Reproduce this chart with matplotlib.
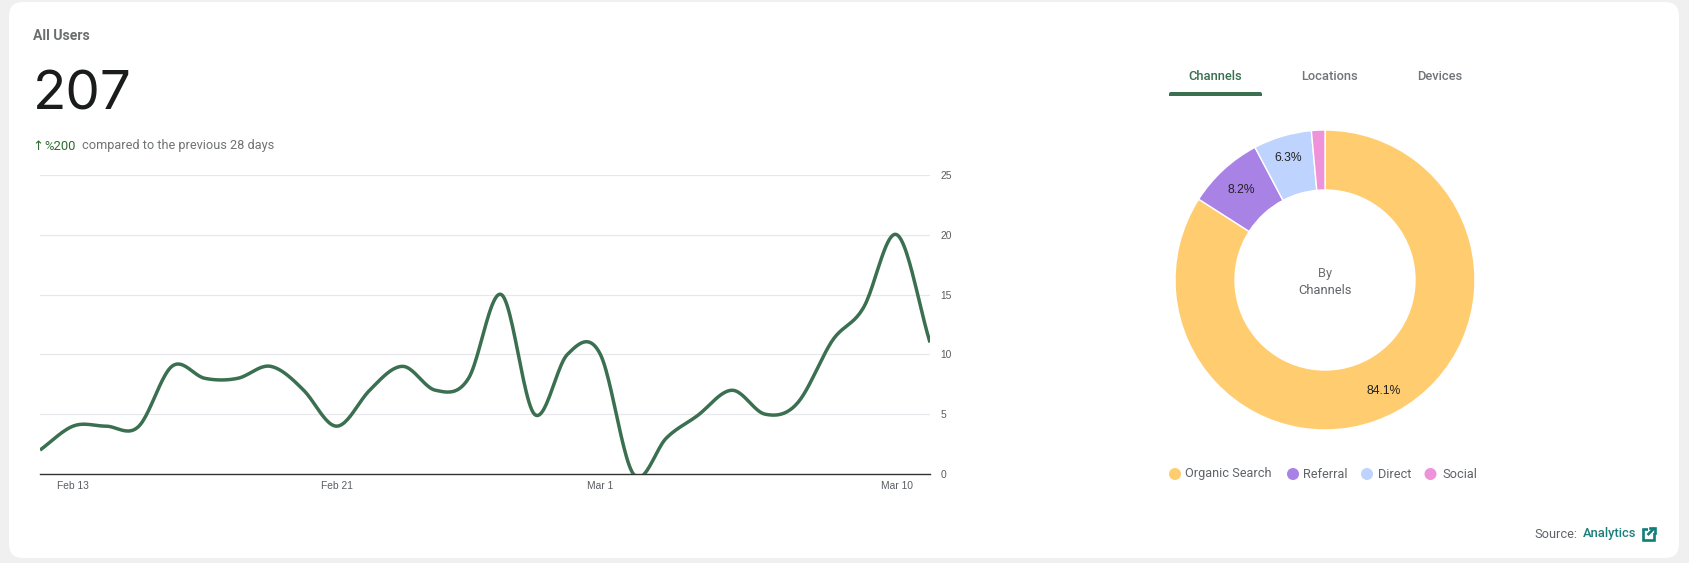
import numpy as np
import matplotlib
matplotlib.use("Agg")
import matplotlib.pyplot as plt
from matplotlib.patches import FancyBboxPatch, Circle, Rectangle

W, H = 1689, 563

# ---- data ----
users = [2, 4, 4, 4, 9, 8, 8, 9, 7, 4, 7, 9, 7, 8, 15, 5, 10, 10, 0, 3, 5, 7, 5, 6, 11, 14, 20, 11]
date_ticks = [1, 9, 17, 26]
date_labels = ["Feb 13", "Feb 21", "Mar 1", "Mar 10"]
y_ticks = [0, 5, 10, 15, 20, 25]
channels = ["Organic Search", "Referral", "Direct", "Social"]
channel_users = [174, 17, 13, 3]
channel_colors = ["#FFCD70", "#A982E6", "#BFD3FF", "#EE92DA"]
tabs = ["Channels", "Locations", "Devices"]

FONT = "Roboto"
GREEN = "#3A6F50"


def smooth(values, per=24):
    """Draw the daily values as a smooth line through every point."""
    v = np.asarray(values, float)
    t = np.gradient(v) * 1.0
    t[1:-1] = (v[2:] - v[:-2]) / 2 * 1.1
    xs, ys = [], []
    for i in range(len(v) - 1):
        s = np.linspace(0, 1, per, endpoint=False)
        h00 = 2*s**3 - 3*s**2 + 1
        h10 = s**3 - 2*s**2 + s
        h01 = -2*s**3 + 3*s**2
        h11 = s**3 - s**2
        xs.append(i + s)
        ys.append(h00*v[i] + h10*t[i] + h01*v[i+1] + h11*t[i+1])
    xs.append([len(v) - 1])
    ys.append([v[-1]])
    return np.concatenate(xs), np.concatenate(ys)


def px_axes(x0, y0, x1, y1, **kw):
    return fig.add_axes([x0 / W, 1 - y1 / H, (x1 - x0) / W, (y1 - y0) / H], **kw)


fig = plt.figure(figsize=(W / 100, H / 100), dpi=100, facecolor="#F0F0F0")

# ---- card + free text in pixel coordinates ----
bg = fig.add_axes([0, 0, 1, 1], zorder=0)
bg.set_xlim(0, W)
bg.set_ylim(H, 0)
bg.axis("off")
bg.add_patch(FancyBboxPatch((9 + 14, 2 + 14), 1670 - 28, 556 - 28,
                            boxstyle="round,pad=14,rounding_size=14",
                            fc="white", ec="none"))

bg.text(33, 35.5, "All Users", family=FONT, weight="bold", fontsize=10.1,
        color="#6B6F6C", va="center")
bg.text(33, 109, "207", family="Inter", fontsize=39.5, color="#191C1A", va="baseline")
bg.text(32.5, 146, "↑", family="DejaVu Sans", fontsize=9.5, color="#2F6B2F", va="center")
bg.text(44.5, 146, "%200", family=FONT, fontsize=9.4, color="#2F6B2F", va="center")
bg.text(82.5, 146, "compared to the previous 28 days", family=FONT, fontsize=9.15,
        color="#6F7471", va="center")

# tabs
for name, cx, col in zip(tabs, [1215, 1329.5, 1439.5], [GREEN, "#70757A", "#70757A"]):
    bg.text(cx, 76, name, family=FONT, fontsize=9.3, weight="medium", color=col,
            ha="center", va="center")
bg.add_patch(FancyBboxPatch((1171, 94), 89, 5, boxstyle="round,pad=2,rounding_size=2",
                            fc=GREEN, ec="none"))
bg.add_patch(Rectangle((1166, 96), 100, 8, fc="white", ec="none"))

# legend
for name, col, dx, tx in zip(channels, channel_colors,
                             [1175, 1293, 1367, 1430.5],
                             [1185, 1303, 1378, 1442]):
    bg.add_patch(Circle((dx, 474), 6, fc=col, ec="none"))
    bg.text(tx, 474, name, family=FONT, fontsize=9.2, color="#5F6368", va="center")

# source
bg.text(1534.5, 534, "Source:", family=FONT, fontsize=9.2, color="#5F6368", va="center")
bg.text(1582.5, 534, "Analytics", family=FONT, fontsize=9.3, weight="medium",
        color="#1A7F7B", va="center")
bg.add_patch(Rectangle((1643, 528.5), 11.5, 11.5, fc="none", ec="#0F7F7B", lw=1.9))
bg.add_patch(Rectangle((1648.5, 526), 7.5, 7, fc="white", ec="none"))
bg.plot([1647.5, 1654.5], [535, 528], color="#0F7F7B", lw=1.9, solid_capstyle="butt")
bg.plot([1650, 1655.5, 1655.5], [527.7, 527.7, 533], color="#0F7F7B", lw=1.9,
        solid_joinstyle="miter")

# ---- line chart ----
ax = px_axes(40, 175, 930, 474, zorder=2)
ax.patch.set_alpha(0)
ax.set_xlim(0, len(users) - 1)
ax.set_ylim(0, 25)
for s in ["top", "left", "right"]:
    ax.spines[s].set_visible(False)
ax.spines["bottom"].set_color("#333333")
ax.spines["bottom"].set_linewidth(1.0)
ax.set_yticks(y_ticks)
ax.yaxis.tick_right()
ax.set_xticks(date_ticks)
ax.set_xticklabels(date_labels)
ax.tick_params(axis="both", length=0, labelsize=7.4, labelcolor="#5A5E62")
ax.tick_params(axis="x", pad=5.2)
ax.tick_params(axis="y", pad=7.5)
for lab in ax.get_xticklabels() + ax.get_yticklabels():
    lab.set_family("Liberation Sans")
ax.grid(axis="y", color="#E8E8EC", lw=0.9)
ax.set_axisbelow(True)
cx, cy = smooth(users)
ax.plot(cx, cy, color=GREEN, lw=2.5, clip_on=True, zorder=3, solid_capstyle="butt")

# ---- donut ----
pie = px_axes(1325 - 155, 280 - 155, 1325 + 155, 280 + 155, zorder=2)
pie.set_xlim(-155, 155)
pie.set_ylim(-155, 155)
pie.set_aspect("equal")
pie.axis("off")
wedges, _, autotexts = pie.pie(
    channel_users, radius=150, startangle=90, counterclock=False,
    colors=channel_colors, wedgeprops=dict(width=60, edgecolor="white", linewidth=1.0),
    autopct=lambda p: f"{p:.1f}%" if p > 3 else "", pctdistance=0.8, frame=False,
)
pie.set_xlim(-155, 155)
pie.set_ylim(-155, 155)
label_nudges = [(1, -5.5), (-2.5, 2), (-2.5, 6.5), (0, 0)]
for t, (nx, ny) in zip(autotexts, label_nudges):
    x, y = t.get_position()
    t.set_position((x + nx, y + ny))
    t.set_family("Liberation Sans")
    t.set_fontsize(8.7)
    t.set_color("#222222")
pie.text(0, 6, "By", family=FONT, fontsize=9.3, color="#6F7471", ha="center", va="center")
pie.text(0, -10, "Channels", family=FONT, fontsize=9.3, color="#5F6368", ha="center", va="center")

fig.savefig("out.png", dpi=100, facecolor=fig.get_facecolor())
